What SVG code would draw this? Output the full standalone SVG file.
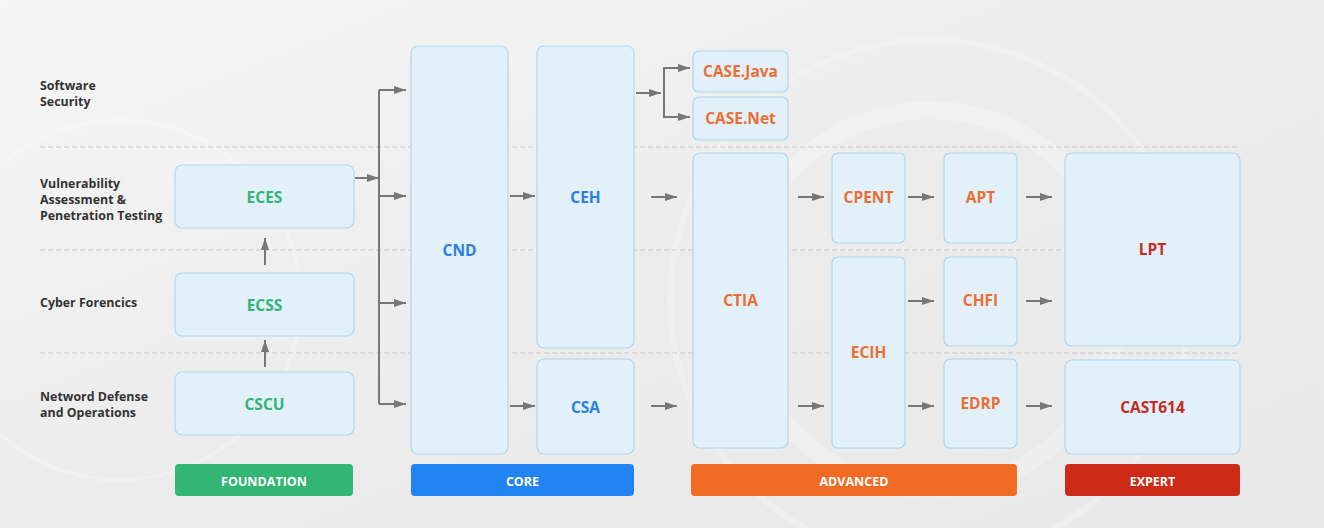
<svg xmlns="http://www.w3.org/2000/svg" width="1324" height="528" viewBox="0 0 1324 528">
<defs>
<linearGradient id="bg" x1="0" y1="0" x2="1" y2="1">
<stop offset="0" stop-color="#f6f6f6"/>
<stop offset="0.5" stop-color="#ececec"/>
<stop offset="1" stop-color="#e9e9e9"/>
</linearGradient>
<marker id="ah" viewBox="0 0 12 8" refX="12" refY="4" markerWidth="12" markerHeight="8" markerUnits="userSpaceOnUse" orient="auto">
<path d="M0,0 L12,4 L0,8 Z" fill="#777"/>
</marker>
<style>
.box{fill:#e2f0fa;stroke:#aed6f1;stroke-width:1.2}
.t{font-family:"Open Sans","Liberation Sans",sans-serif;font-weight:700;font-size:15.5px;text-anchor:middle;dominant-baseline:central}
.g{fill:#35b277}.b{fill:#2a7fe0}.o{fill:#ec6f31}.r{fill:#c52b1f}
.row{font-family:"Open Sans","Liberation Sans",sans-serif;font-weight:700;font-size:12.4px;fill:#333}
.dash{stroke:#c8c8c8;stroke-width:1;stroke-dasharray:5 3}
.c{stroke:#777;stroke-width:2;fill:none}
.a{stroke:#777;stroke-width:2;fill:none;marker-end:url(#ah)}
.bar{font-family:"Open Sans","Liberation Sans",sans-serif;font-weight:700;font-size:12.5px;fill:#fff;text-anchor:middle;dominant-baseline:central}
</style>
</defs>
<rect width="1324" height="528" fill="url(#bg)"/>
<g fill="none" stroke="#ffffff" stroke-opacity="0.22">
<circle cx="930" cy="300" r="190" stroke-width="18"/>
<circle cx="930" cy="300" r="260" stroke-width="6"/>
<circle cx="120" cy="300" r="180" stroke-width="4"/>
</g>
<g id="rows">
<line class="dash" x1="40" y1="147" x2="1240" y2="147"/>
<line class="dash" x1="40" y1="250" x2="1240" y2="250"/>
<line class="dash" x1="40" y1="353" x2="1240" y2="353"/>
<text class="row" x="40" y="90">Software</text>
<text class="row" x="40" y="106">Security</text>
<text class="row" x="40" y="188">Vulnerability</text>
<text class="row" x="40" y="204">Assessment &amp;</text>
<text class="row" x="40" y="220">Penetration Testing</text>
<text class="row" x="40" y="307">Cyber Forencics</text>
<text class="row" x="40" y="401">Netword Defense</text>
<text class="row" x="40" y="417">and Operations</text>
</g>
<g id="connectors">
<line class="c" x1="379" y1="90" x2="379" y2="404"/>
<line class="a" x1="379" y1="90" x2="406" y2="90"/>
<line class="a" x1="379" y1="196" x2="406" y2="196"/>
<line class="a" x1="379" y1="303" x2="406" y2="303"/>
<line class="a" x1="379" y1="404" x2="406" y2="404"/>
<line class="a" x1="355" y1="178" x2="379" y2="178"/>
<line class="a" x1="265" y1="265" x2="265" y2="238"/>
<line class="a" x1="265" y1="367" x2="265" y2="340"/>
<line class="a" x1="510" y1="196" x2="535" y2="196"/>
<line class="a" x1="510" y1="406" x2="535" y2="406"/>
<line class="a" x1="636" y1="93" x2="661" y2="93"/>
<path class="c" d="M664,68 V117"/>
<line class="a" x1="663" y1="68" x2="690" y2="68"/>
<line class="a" x1="663" y1="117" x2="690" y2="117"/>
<line class="a" x1="651" y1="197" x2="677" y2="197"/>
<line class="a" x1="651" y1="406" x2="677" y2="406"/>
<line class="a" x1="798" y1="197" x2="824" y2="197"/>
<line class="a" x1="798" y1="406" x2="824" y2="406"/>
<line class="a" x1="908" y1="197" x2="934" y2="197"/>
<line class="a" x1="908" y1="301" x2="934" y2="301"/>
<line class="a" x1="908" y1="406" x2="934" y2="406"/>
<line class="a" x1="1026" y1="197" x2="1052" y2="197"/>
<line class="a" x1="1026" y1="301" x2="1052" y2="301"/>
<line class="a" x1="1026" y1="406" x2="1052" y2="406"/>
</g>
<g id="ECES"><rect class="box" x="175" y="165" width="179" height="63" rx="7"/><text class="t g" x="264.5" y="196.5">ECES</text></g>
<g id="ECSS"><rect class="box" x="175" y="273" width="179" height="63" rx="7"/><text class="t g" x="264.5" y="304.5">ECSS</text></g>
<g id="CSCU"><rect class="box" x="175" y="372" width="179" height="63" rx="7"/><text class="t g" x="264.5" y="403.5">CSCU</text></g>
<g id="CND"><rect class="box" x="411" y="46" width="97" height="408" rx="7"/><text class="t b" x="459.5" y="250">CND</text></g>
<g id="CEH"><rect class="box" x="537" y="46" width="97" height="302" rx="7"/><text class="t b" x="585.5" y="196.5">CEH</text></g>
<g id="CSA"><rect class="box" x="537" y="359" width="97" height="95" rx="7"/><text class="t b" x="585.5" y="406.5">CSA</text></g>
<g id="CASEJava"><rect class="box" x="693" y="51" width="95" height="41" rx="6"/><text class="t o" x="740.5" y="71">CASE.Java</text></g>
<g id="CASENet"><rect class="box" x="693" y="97" width="95" height="43" rx="6"/><text class="t o" x="740.5" y="118">CASE.Net</text></g>
<g id="CTIA"><rect class="box" x="693" y="153" width="95" height="295" rx="7"/><text class="t o" x="740.5" y="300">CTIA</text></g>
<g id="CPENT"><rect class="box" x="832" y="153" width="73" height="90" rx="6"/><text class="t o" x="868.5" y="197">CPENT</text></g>
<g id="APT"><rect class="box" x="944" y="153" width="73" height="90" rx="6"/><text class="t o" x="980.5" y="197">APT</text></g>
<g id="ECIH"><rect class="box" x="832" y="257" width="73" height="191" rx="6"/><text class="t o" x="868.5" y="352">ECIH</text></g>
<g id="CHFI"><rect class="box" x="944" y="257" width="73" height="89" rx="6"/><text class="t o" x="980.5" y="300">CHFI</text></g>
<g id="EDRP"><rect class="box" x="944" y="359" width="73" height="89" rx="6"/><text class="t o" x="980.5" y="403">EDRP</text></g>
<g id="LPT"><rect class="box" x="1065" y="153" width="175" height="193" rx="7"/><text class="t r" x="1152.5" y="249">LPT</text></g>
<g id="CAST614"><rect class="box" x="1065" y="360" width="175" height="94" rx="7"/><text class="t r" x="1152.5" y="407">CAST614</text></g>
<g id="FOUNDATION"><rect x="175" y="464" width="178" height="32" rx="4" fill="#33b574"/><text class="bar" x="264" y="481">FOUNDATION</text></g>
<g id="CORE"><rect x="411" y="464" width="223" height="32" rx="4" fill="#2283f2"/><text class="bar" x="522.5" y="481">CORE</text></g>
<g id="ADVANCED"><rect x="691" y="464" width="326" height="32" rx="4" fill="#f26b25"/><text class="bar" x="854" y="481">ADVANCED</text></g>
<g id="EXPERT"><rect x="1065" y="464" width="175" height="32" rx="4" fill="#cd2a17"/><text class="bar" x="1152.5" y="481">EXPERT</text></g>
</svg>
